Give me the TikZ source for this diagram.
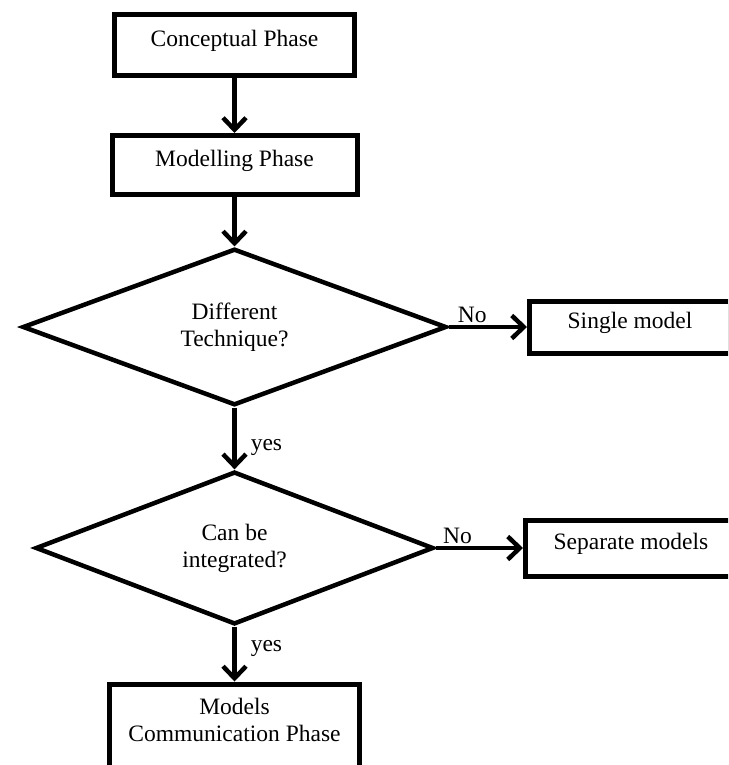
\documentclass[tikz,border=0pt]{standalone}
\usepackage{fontspec}
\setmainfont{Liberation Serif}
\usetikzlibrary{shapes.geometric,arrows.meta}

\begin{document}
\begin{tikzpicture}[x=1pt,y=-1pt,
  every node/.style={font=\fontsize{23.5}{27}\selectfont},
  phase/.style={draw,line width=5pt,text depth=14pt,align=center},
  decision/.style={draw,diamond,line width=4.5pt,inner sep=0pt,align=center},
  flow/.style={->,line width=4.5pt,>={Straight Barb[length=12pt,width=23pt]}},
  tag/.style={inner sep=2pt}]
  \clip (0,0) rectangle (728,765);
  \node[phase,minimum width=240pt,minimum height=61pt] (concept) at (234.5,45) {Conceptual Phase};
  \node[phase,minimum width=245pt,minimum height=59pt] (model) at (234.5,165) {Modelling Phase};
  \node[decision,minimum width=424pt,minimum height=148pt] (diff) at (234.5,327) {Different\\Technique?};
  \node[phase,minimum width=201pt,minimum height=52pt] (single) at (630,327) {Single model};
  \node[decision,minimum width=398pt,minimum height=147pt] (integ) at (234.5,548) {Can be\\integrated?};
  \node[phase,minimum width=211pt,minimum height=56pt] (separate) at (631,548) {Separate models};
  \node[phase,minimum width=250pt,minimum height=86pt] (commun) at (234.5,727) {Models\\Communication Phase};
  \draw[flow] (concept) -- (model);
  \draw[flow] (model) -- (diff);
  \draw[flow] (diff.east) -- (single.west) node[tag,pos=0.3,above] {No};
  \draw[flow] (diff) -- (integ) node[tag,pos=0.65,right=12pt] {yes};
  \draw[flow] (integ.east) -- (separate.west) node[tag,pos=0.25,above] {No};
  \draw[flow] (integ) -- (commun) node[tag,pos=0.4,right=12pt] {yes};
\end{tikzpicture}
\end{document}
